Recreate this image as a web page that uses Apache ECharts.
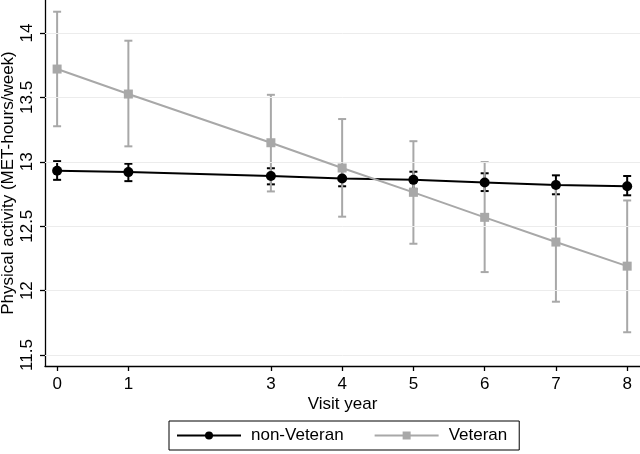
<!DOCTYPE html>
<html>
<head>
<meta charset="utf-8">
<script src="https://cdn.jsdelivr.net/npm/echarts@6/dist/echarts.min.js"></script>
<style>
html,body{margin:0;padding:0;background:#fff;}
#chart{width:640px;height:454px;}
</style>
</head>
<body>
<div id="chart"></div>
<script>
// Data
const years = [0, 1, 3, 4, 5, 6, 7, 8];
const yTicks = [11.5, 12, 12.5, 13, 13.5, 14];
const nonVet   = [12.93, 12.92, 12.89, 12.87, 12.86, 12.84, 12.82, 12.81];
const nonVetLo = [12.86, 12.85, 12.825, 12.81, 12.79, 12.773, 12.748, 12.74];
const nonVetHi = [13.005, 12.985, 12.95, 12.935, 12.923, 12.911, 12.895, 12.89];
const vet   = [13.72, 13.526, 13.148, 12.952, 12.763, 12.569, 12.377, 12.19];
const vetLo = [13.276, 13.12, 12.77, 12.574, 12.364, 12.144, 11.914, 11.677];
const vetHi = [14.165, 13.94, 13.52, 13.332, 13.16, 12.998, 12.84, 12.70];

const BLACK = '#000000';
const GREY = '#a8a8a8';
const FONT = 'Liberation Sans, Arial, Helvetica, sans-serif';

function pairs(xs, ys) { return xs.map((x, i) => [x, ys[i]]); }
function errData(xs, lo, hi) { return xs.map((x, i) => [x, lo[i], hi[i]]); }

function capRenderer(color) {
  return function (params, api) {
    const x = api.value(0);
    const lo = api.coord([x, api.value(1)]);
    const hi = api.coord([x, api.value(2)]);
    const hw = 4;
    const style = { stroke: color, lineWidth: 2, fill: 'none' };
    return {
      type: 'group',
      children: [
        { type: 'line', shape: { x1: lo[0], y1: lo[1], x2: hi[0], y2: hi[1] }, style: style },
        { type: 'line', shape: { x1: lo[0] - hw, y1: lo[1], x2: lo[0] + hw, y2: lo[1] }, style: style },
        { type: 'line', shape: { x1: hi[0] - hw, y1: hi[1], x2: hi[0] + hw, y2: hi[1] }, style: style }
      ]
    };
  };
}

const chart = echarts.init(document.getElementById('chart'), null, { renderer: 'canvas' });
chart.setOption({
  animation: false,
  backgroundColor: '#ffffff',
  textStyle: { fontFamily: FONT },
  grid: { left: 45, right: 0, top: 0, bottom: 88, containLabel: false, outerBoundsMode: 'none' },
  xAxis: {
    type: 'value',
    min: -0.17,
    max: 8.18,
    name: 'Visit year',
    nameLocation: 'middle',
    nameGap: 30,
    nameMoveOverlap: false,
    nameTextStyle: { fontSize: 17, color: '#000', fontFamily: FONT },
    axisLine: { show: true, onZero: false, lineStyle: { color: '#000', width: 1.3 } },
    axisTick: { show: true, length: 5, customValues: years, lineStyle: { color: '#000', width: 1.3 } },
    axisLabel: { customValues: years, fontSize: 17, color: '#000', margin: 10, fontFamily: FONT },
    splitLine: { show: false }
  },
  yAxis: {
    type: 'value',
    min: 11.415,
    max: 14.256,
    name: 'Physical activity (MET-hours/week)',
    nameLocation: 'middle',
    nameGap: 28,
    nameMoveOverlap: false,
    nameRotate: 90,
    nameTextStyle: { fontSize: 17, color: '#000', fontFamily: FONT },
    axisLine: { show: true, onZero: false, lineStyle: { color: '#000', width: 1.3 } },
    axisTick: { show: true, length: 5, customValues: yTicks, lineStyle: { color: '#000', width: 1.3 } },
    axisLabel: { customValues: yTicks, rotate: 90, fontSize: 17, color: '#000', margin: 9, fontFamily: FONT },
    splitLine: { show: false }
  },
  legend: {
    left: 169,
    top: 421,
    orient: 'horizontal',
    padding: [6, 12, 6, 7],
    borderColor: '#000',
    borderWidth: 1,
    itemWidth: 64,
    itemHeight: 10,
    itemGap: 30,
    textStyle: { fontSize: 17, color: '#000', fontFamily: FONT, padding: [0, 0, 0, 5] },
    data: ['non-Veteran', 'Veteran']
  },
  series: [
    {
      name: 'gridlines',
      type: 'line',
      data: [],
      silent: true,
      z: 0,
      markLine: {
        silent: true,
        symbol: 'none',
        label: { show: false },
        lineStyle: { color: '#ececec', width: 1, type: 'solid' },
        data: yTicks.map(v => ({ yAxis: v }))
      }
    },
    {
      name: 'nonVetErr',
      type: 'custom',
      renderItem: capRenderer(BLACK),
      data: errData(years, nonVetLo, nonVetHi),
      encode: { x: 0, y: [1, 2] },
      z: 2,
      silent: true
    },
    {
      name: 'vetErr',
      type: 'custom',
      renderItem: capRenderer(GREY),
      data: errData(years, vetLo, vetHi),
      encode: { x: 0, y: [1, 2] },
      z: 3,
      silent: true
    },
    {
      name: 'non-Veteran',
      type: 'line',
      data: pairs(years, nonVet),
      symbol: 'circle',
      symbolSize: 10,
      itemStyle: { color: BLACK },
      lineStyle: { color: BLACK, width: 2 },
      z: 4
    },
    {
      name: 'Veteran',
      type: 'line',
      data: pairs(years, vet),
      symbol: 'rect',
      symbolSize: 9,
      itemStyle: { color: GREY },
      lineStyle: { color: GREY, width: 2 },
      z: 5
    }
  ]
});
</script>
</body>
</html>
